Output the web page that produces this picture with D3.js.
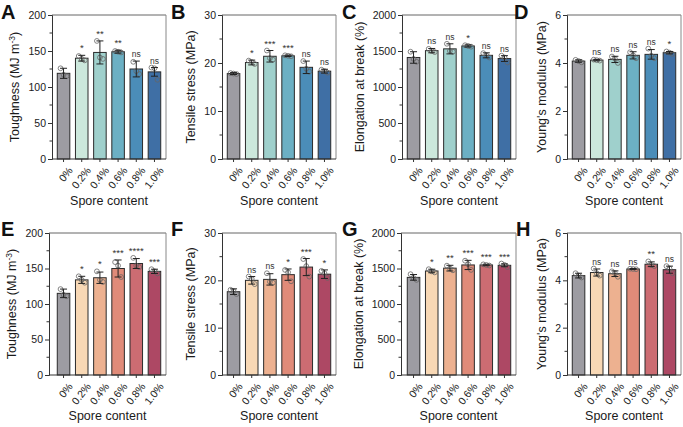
<!DOCTYPE html>
<html><head><meta charset="utf-8">
<script src="https://cdn.jsdelivr.net/npm/d3@7"></script>
<style>body{margin:0;background:#fff}svg{display:block;font-family:"Liberation Sans",Arial,sans-serif}</style>
</head><body><svg id="c" width="683" height="427"></svg>
<script>
const categories = ["0%","0.2%","0.4%","0.6%","0.8%","1.0%"];
const blueColors = ["#9d9ca2","#cce8dc","#9fd0cc","#6cb0c4","#4b8db8","#3f6fa5"];
const redColors  = ["#9d9ca2","#f8d8b5","#edb190","#e08b79","#cc6c72","#ad4864"];
const yTitles = ["Toughness","Tensile stress (MPa)","Elongation at break (%)","Young's modulus (MPa)"];
const yMax = [200, 30, 2000, 6];
const yTickStep = [50, 10, 500, 2];
const letters = ["A","B","C","D","E","F","G","H"];

// Panel A–D (blue), E–H (red)
const meanA = [119,140,148,149,125,121];
const errA  = [7,4,16,2,11,6];
const ptsA  = [[126,117,115],[143,139,137],[164,141,139],[150,149,148],[135,122,118],[127,126,110]];
const sigA  = ["","*","**","**","ns","ns"];

const meanB = [17.8,20.1,21.4,21.5,19.1,18.3];
const errB  = [0.2,0.5,1.2,0.15,1.3,0.4];
const ptsB  = [[17.9,17.8,17.7],[20.5,20.2,19.8],[22.6,21.0,20.7],[21.6,21.5,21.4],[20.4,18.8,18.2],[18.6,18.3,18.0]];
const sigB  = ["","*","***","***","ns","ns"];

const meanC = [1410,1505,1530,1570,1440,1395];
const errC  = [80,30,70,15,35,40];
const ptsC  = [[1490,1390,1350],[1530,1500,1485],[1600,1500,1490],[1580,1570,1560],[1470,1440,1410],[1435,1410,1340]];
const sigC  = ["","ns","ns","*","ns","ns"];

const meanD = [4.08,4.12,4.15,4.32,4.36,4.43];
const errD  = [0.05,0.03,0.13,0.15,0.2,0.05];
const ptsD  = [[4.13,4.08,4.03],[4.14,4.12,4.10],[4.27,4.18,4.0],[4.45,4.32,4.2],[4.6,4.3,4.2],[4.48,4.43,4.38]];
const sigD  = ["","ns","ns","ns","ns","*"];

const meanE = [115,134,137,150,157,146];
const errE  = [6,5,8,12,7,3];
const ptsE  = [[121,113,111],[139,134,130],[146,134,131],[159,154,138],[165,154,152],[149,146,143]];
const sigE  = ["","*","*","***","****","***"];

const meanF = [17.6,20.0,20.2,21.2,22.8,21.3];
const errF  = [0.6,0.8,1.2,1.2,1.8,0.9];
const ptsF  = [[18.0,17.7,17.1],[20.8,20.3,19.2],[21.5,19.7,19.5],[22.2,21.7,19.8],[24.5,23.0,20.8],[22.0,21.5,20.5]];
const sigF  = ["","ns","ns","*","***","*"];

const meanG = [1375,1465,1505,1550,1550,1545];
const errG  = [40,25,40,65,10,20];
const ptsG  = [[1420,1365,1340],[1490,1460,1445],[1540,1500,1475],[1610,1560,1480],[1558,1550,1542],[1570,1550,1520]];
const sigG  = ["","*","**","***","***","***"];

const meanH = [4.2,4.33,4.28,4.48,4.68,4.45];
const errH  = [0.1,0.15,0.12,0.02,0.1,0.15];
const ptsH  = [[4.3,4.2,4.12],[4.5,4.3,4.2],[4.38,4.3,4.15],[4.49,4.48,4.47],[4.8,4.65,4.6],[4.6,4.5,4.3]];
const sigH  = ["","ns","ns","ns","**","ns"];

const panels = [
  {mean:meanA,err:errA,pts:ptsA,sig:sigA,k:0,colors:blueColors},
  {mean:meanB,err:errB,pts:ptsB,sig:sigB,k:1,colors:blueColors},
  {mean:meanC,err:errC,pts:ptsC,sig:sigC,k:2,colors:blueColors},
  {mean:meanD,err:errD,pts:ptsD,sig:sigD,k:3,colors:blueColors},
  {mean:meanE,err:errE,pts:ptsE,sig:sigE,k:0,colors:redColors},
  {mean:meanF,err:errF,pts:ptsF,sig:sigF,k:1,colors:redColors},
  {mean:meanG,err:errG,pts:ptsG,sig:sigG,k:2,colors:redColors},
  {mean:meanH,err:errH,pts:ptsH,sig:sigH,k:3,colors:redColors}
];
// layout
const axisXs = [52,222,402,567,49,222,401,567];
const bandL  = [52,222,402,567,52,222,402,567];
const rowTop = [15,233], rowBot=[159,375];
const letterX = [1,171,342,514,1,171,342,516];
const letterY = [19,19,19,19,236,236,236,236];
const W = 114;

const svg = d3.select("#c");
panels.forEach((p,i)=>{
  const row = i<4?0:1;
  const g = svg.append("g");
  const ax = axisXs[i];
  const x = d3.scaleBand().domain(categories).range([bandL[i], bandL[i]+W]).paddingInner(0.31).paddingOuter(0.29);
  const y = d3.scaleLinear().domain([0,yMax[p.k]]).range([rowBot[row], rowTop[row]]);
  const right = bandL[i]+W;
  // frame
  g.append("line").attr("x1",ax).attr("x2",right).attr("y1",rowTop[row]).attr("y2",rowTop[row]).attr("stroke","#666").attr("stroke-width",1);
  g.append("line").attr("x1",right).attr("x2",right).attr("y1",rowTop[row]).attr("y2",rowBot[row]).attr("stroke","#888").attr("stroke-width",1);
  // bars
  g.selectAll("rect.bar").data(p.mean).join("rect")
    .attr("x",(d,j)=>x(categories[j])).attr("width",x.bandwidth())
    .attr("y",d=>y(d)).attr("height",d=>y(0)-y(d))
    .attr("fill",(d,j)=>p.colors[j]).attr("stroke","#2b2b2b").attr("stroke-width",1);
  // points
  p.pts.forEach((arr,j)=>{
    const cx = x(categories[j])+x.bandwidth()/2;
    const offs=[-3,0,3];
    arr.forEach((v,q)=>{
      g.append("circle").attr("cx",cx+offs[q]).attr("cy",y(v)).attr("r",2.4)
        .attr("fill","none").attr("stroke","#666").attr("stroke-width",0.8);
    });
  });
  // error bars
  p.mean.forEach((m,j)=>{
    const cx = x(categories[j])+x.bandwidth()/2;
    const e = p.err[j];
    g.append("line").attr("x1",cx).attr("x2",cx).attr("y1",y(m-e)).attr("y2",y(m+e)).attr("stroke","#222").attr("stroke-width",1);
    [m-e,m+e].forEach(v=>g.append("line").attr("x1",cx-3.5).attr("x2",cx+3.5).attr("y1",y(v)).attr("y2",y(v)).attr("stroke","#222").attr("stroke-width",1));
    if(p.sig[j]){
      const top = Math.max(m+e, d3.max(p.pts[j]));
      g.append("text").attr("x",cx).attr("y",y(top)-4).attr("text-anchor","middle")
        .attr("font-size",p.sig[j]==="ns"?8.5:9.5).attr("fill","#333").text(p.sig[j]);
    }
  });
  // y axis
  const major = d3.range(0,yMax[p.k]+1e-9,yTickStep[p.k]);
  const minor = d3.range(yTickStep[p.k]/2,yMax[p.k],yTickStep[p.k]);
  const yAxis = d3.axisLeft(y).tickValues(major).tickSize(4).tickPadding(2).tickFormat(d3.format("d"));
  const ya = g.append("g").attr("transform",`translate(${ax},0)`).call(yAxis);
  ya.selectAll("text").attr("font-size",10.5).attr("fill","#1a1a1a").attr("font-family","Liberation Sans, Arial, sans-serif");
  ya.selectAll("line,path").attr("stroke","#333");
  minor.forEach(v=>g.append("line").attr("x1",ax-2.5).attr("x2",ax).attr("y1",y(v)).attr("y2",y(v)).attr("stroke","#333"));
  let labelLeft = ax;
  ya.selectAll("text").each(function(){const b=this.getBBox(); labelLeft=Math.min(labelLeft, ax+b.x);});
  // x axis
  g.append("line").attr("x1",ax).attr("x2",right).attr("y1",y(0)).attr("y2",y(0)).attr("stroke","#333");
  categories.forEach((c,j)=>{
    const cx = x(c)+x.bandwidth()/2;
    g.append("line").attr("x1",cx).attr("x2",cx).attr("y1",y(0)).attr("y2",y(0)+3).attr("stroke","#333");
    g.append("text").attr("transform",`translate(${cx+4},${y(0)+7}) rotate(-52)`).attr("text-anchor","end")
      .attr("dy","0.7em").attr("font-size",10.5).attr("fill","#1a1a1a").text(c);
  });
  // x title
  g.append("text").attr("x",(ax+right)/2).attr("y",row?420:205).attr("text-anchor","middle").attr("font-size",12.5).attr("fill","#1a1a1a").text("Spore content");
  // y title
  const ty = g.append("text").attr("transform",`translate(${labelLeft-9},${(rowTop[row]+rowBot[row])/2}) rotate(-90)`)
    .attr("text-anchor","middle").attr("font-size",12.5).attr("fill","#1a1a1a");
  if(p.k===0){
    ty.append("tspan").text("Toughness (MJ m");
    ty.append("tspan").attr("dy",-4).attr("font-size",8.5).text("-3");
    ty.append("tspan").attr("dy",4).text(")");
  } else ty.text(yTitles[p.k]);
  // letter
  g.append("text").attr("x",letterX[i]).attr("y",letterY[i]).attr("font-size",20).attr("font-weight","bold").attr("fill","#111").text(letters[i]);
});
</script></body></html>
